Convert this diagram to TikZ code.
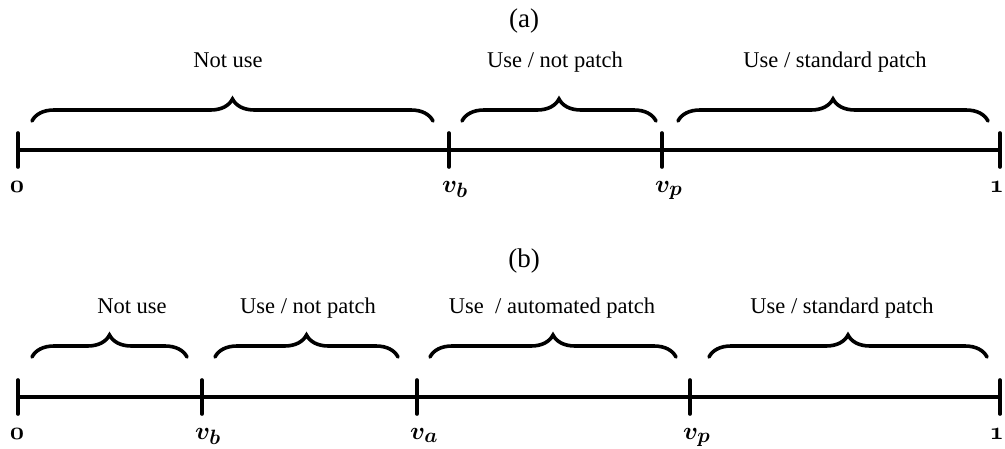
\documentclass[tikz,border=0pt]{standalone}
\usepackage{amsmath}
\usepackage{bm}
\usepackage[no-math]{fontspec}
\setmainfont{Liberation Serif}
\usetikzlibrary{decorations.pathreplacing}
\tikzset{
  axis/.style={line width=3.6pt},
  tick/.style={line width=3.6pt, line cap=round},
  brc/.style={line width=3.6pt, line cap=round, decorate, decoration={brace, amplitude=22pt}},
  lbl/.style={font=\fontsize{22.5}{26}\selectfont, inner sep=0pt, anchor=base},
  ttl/.style={font=\fontsize{27}{30}\selectfont, inner sep=0pt, anchor=base},
  val/.style={font=\fontsize{30}{34}\selectfont, inner sep=0pt, anchor=base west},
  valc/.style={font=\fontsize{30}{34}\selectfont, inner sep=0pt, anchor=base},
  vale/.style={font=\fontsize{30}{34}\selectfont, inner sep=0pt, anchor=base east},
}
\begin{document}
\begin{tikzpicture}[x=1pt, y=-1pt]
\useasboundingbox (0,0) rectangle (1005,448);
% ---------- (a)
\node[ttl] (ta) at (524,27) {(a)};
\coordinate (a0) at (18,150);
\coordinate (ab) at (449,150);
\coordinate (ap) at (662,150);
\coordinate (a1) at (1000,150);
\draw[axis] (a0) -- (a1);
\foreach \c in {a0,ab,ap,a1} \draw[tick] ([yshift=-17pt]\c) -- ([yshift=17pt]\c);
\draw[brc] (32,121) -- (433,121);
\draw[brc] (462,121) -- (656,121);
\draw[brc] (678,121) -- (988,121);
\node[lbl] (la1) at (228,67) {Not use};
\node[lbl] (la2) at (555,67) {Use / not patch};
\node[lbl] (la3) at (835,67) {Use / standard patch};
\node[valc] (va0) at (17,192) {$\bm{\mathnormal{0}}$};
\node[val] (vab) at (442,192) {$\bm{v_b}$};
\node[val] (vap) at (655,192) {$\bm{v_p}$};
\node[vale] (va1) at (1004,192) {$\bm{\mathnormal{1}}$};
% ---------- (b)
\node[ttl] (tb) at (524,267) {(b)};
\coordinate (b0) at (18,397);
\coordinate (bb) at (202,397);
\coordinate (ba) at (417,397);
\coordinate (bp) at (690,397);
\coordinate (b1) at (1000,397);
\draw[axis] (b0) -- (b1);
\foreach \c in {b0,bb,ba,bp,b1} \draw[tick] ([yshift=-17pt]\c) -- ([yshift=17pt]\c);
\draw[brc] (32,357) -- (187,357);
\draw[brc] (215,357) -- (398,357);
\draw[brc] (430,357) -- (676,357);
\draw[brc] (709,357) -- (987,357);
\node[lbl] (lb1) at (132,313) {Not use};
\node[lbl] (lb2) at (308,313) {Use / not patch};
\node[lbl] (lb3) at (552,313) {Use\ \ / automated patch};
\node[lbl] (lb4) at (842,313) {Use / standard patch};
\node[valc] (vb0) at (17,439) {$\bm{\mathnormal{0}}$};
\node[val] (vbb) at (195,439) {$\bm{v_b}$};
\node[val] (vba) at (410,439) {$\bm{v_a}$};
\node[val] (vbp) at (683,439) {$\bm{v_p}$};
\node[vale] (vb1) at (1004,439) {$\bm{\mathnormal{1}}$};
\end{tikzpicture}
\end{document}
